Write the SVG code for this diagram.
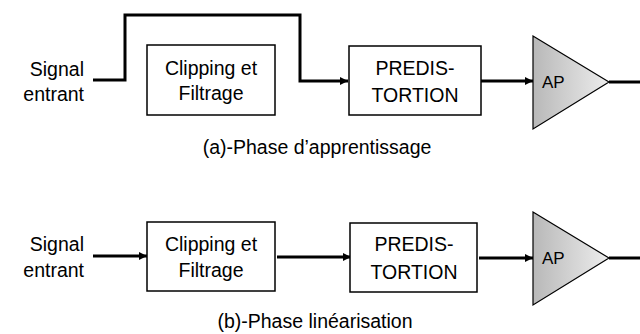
<svg xmlns="http://www.w3.org/2000/svg" width="640" height="334" viewBox="0 0 640 334">
<style>
text{font-family:"Liberation Sans",Arial,sans-serif;font-size:19.5px;fill:#000}
.box{fill:#fff;stroke:#000;stroke-width:1.5}
.amp{stroke:#000;stroke-width:1.2;fill:url(#g)}
.w{fill:none;stroke:#000;stroke-width:3}
.c{text-anchor:middle}
.r{text-anchor:end}
.ap{font-size:17px}
.cap{font-size:19.5px}
</style>
<defs>
<linearGradient id="g" x1="0" y1="0" x2="1" y2="0">
<stop offset="0" stop-color="#b8b8b8"/>
<stop offset="1" stop-color="#ededed"/>
</linearGradient>
<marker id="ah" markerWidth="10" markerHeight="10" refX="8" refY="5" orient="auto" markerUnits="userSpaceOnUse">
<path d="M0,1 L8,5 L0,9 Z" fill="#000"/>
</marker>
</defs>
<g id="connectors">
<polyline class="w" points="93,80 125,80 125,15 300,15 300,81 348,81" marker-end="url(#ah)"/>
<line class="w" x1="481" y1="81" x2="533" y2="81" marker-end="url(#ah)"/>
<line class="w" x1="609" y1="82" x2="640" y2="82"/>
<line class="w" x1="93" y1="256" x2="147" y2="256" marker-end="url(#ah)"/>
<line class="w" x1="277" y1="257" x2="351" y2="257" marker-end="url(#ah)"/>
<line class="w" x1="479" y1="258" x2="533" y2="258" marker-end="url(#ah)"/>
<line class="w" x1="609" y1="258" x2="640" y2="258"/>
</g>
<g id="in-a"><text class="r" x="84" y="76">Signal</text><text class="r" x="84" y="101">entrant</text></g>
<g id="clip-a"><rect class="box" x="147" y="45" width="128" height="70"/><text class="c" x="211" y="75">Clipping et</text><text class="c" x="211" y="100">Filtrage</text></g>
<g id="pred-a"><rect class="box" x="349" y="46" width="132" height="69"/><text class="c" x="415" y="75">PREDIS-</text><text class="c" x="415" y="102">TORTION</text></g>
<g id="ap-a"><polygon class="amp" points="533,36 609,82 533,129"/><text class="ap" x="542" y="88">AP</text></g>
<g id="cap-a"><text class="c cap" x="317" y="154">(a)-Phase d’apprentissage</text></g>
<g id="in-b"><text class="r" x="84" y="251">Signal</text><text class="r" x="84" y="277">entrant</text></g>
<g id="clip-b"><rect class="box" x="147" y="222" width="128" height="69"/><text class="c" x="211" y="251">Clipping et</text><text class="c" x="211" y="277">Filtrage</text></g>
<g id="pred-b"><rect class="box" x="350" y="223" width="127" height="69"/><text class="c" x="414" y="251">PREDIS-</text><text class="c" x="414" y="279">TORTION</text></g>
<g id="ap-b"><polygon class="amp" points="533,212 609,258 533,305"/><text class="ap" x="542" y="264">AP</text></g>
<g id="cap-b"><text class="c cap" x="315" y="328">(b)-Phase linéarisation</text></g>
</svg>
